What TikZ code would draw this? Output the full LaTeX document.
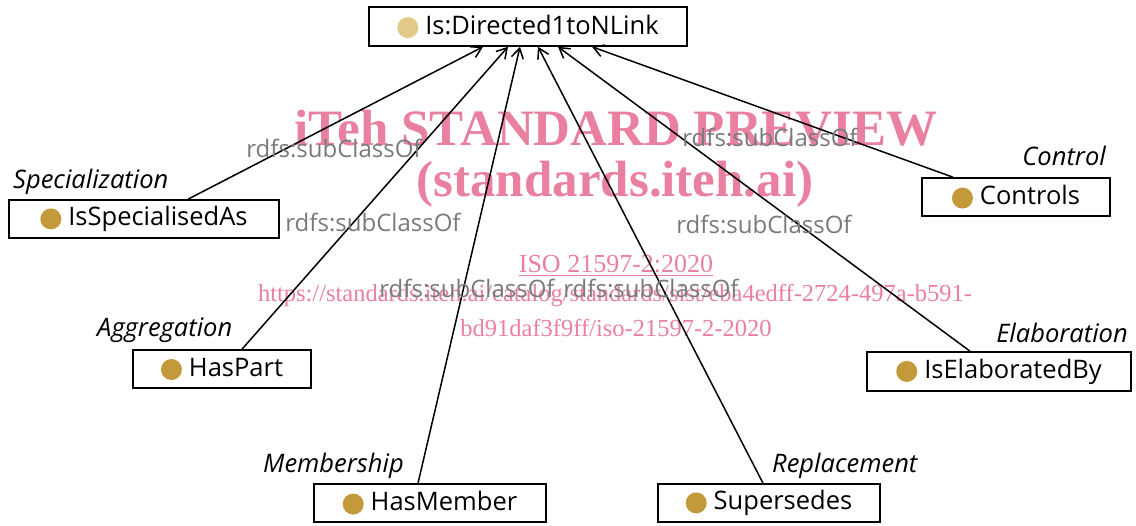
\documentclass[tikz,border=0pt]{standalone}
\usepackage{fontspec}
\setmainfont{Open Sans}
\newfontfamily\wmfont{Liberation Serif}
\usetikzlibrary{arrows.meta}
\definecolor{classgold}{RGB}{195,154,58}
\definecolor{rootgold}{RGB}{226,201,135}
\definecolor{subgray}{RGB}{122,122,122}
\definecolor{wmpink}{RGB}{234,128,160}
\newcommand{\classdot}[1]{\raisebox{-3.8bp}{\tikz\fill[#1] (0,0) circle (10.5bp);}\hspace{7bp}}
\tikzset{
  cls/.style={draw, line width=1.6bp, minimum height=38bp, inner sep=0pt,
    font=\fontsize{25.5bp}{30bp}\selectfont},
  kind/.style={font=\fontsize{25.5bp}{30bp}\selectfont\itshape, inner sep=0pt},
  sub/.style={text=subgray, font=\fontsize{24bp}{29bp}\selectfont, inner sep=0pt, anchor=base},
  isa/.style={line width=1.5bp, -{Straight Barb[length=10bp,width=12bp]}},
  wm/.style={text=wmpink, inner sep=0pt, anchor=base}
}
\begin{document}
\begin{tikzpicture}[x=1bp,y=-1bp]
  \useasboundingbox (0,0) rectangle (1136,526);
  % watermark
  \node[wm, font=\wmfont\bfseries\fontsize{51bp}{60bp}\selectfont] (wmtitle) at (616,146) {iTeh STANDARD PREVIEW};
  \node[wm, font=\wmfont\bfseries\fontsize{51bp}{60bp}\selectfont] (wmsite) at (615,197) {(standards.iteh.ai)};
  \node[wm, font=\wmfont\fontsize{26bp}{30bp}\selectfont] (wmiso) at (616,273) {\underline{ISO 21597-2:2020}};
  \node[wm, font=\wmfont\fontsize{24.5bp}{30bp}\selectfont] (wmurl) at (615,302) {https://standards.iteh.ai/catalog/standards/sist/eba4edff-2724-497a-b591-};
  \node[wm, font=\wmfont\fontsize{24.5bp}{30bp}\selectfont] (wmurlb) at (616,337) {bd91daf3f9ff/iso-21597-2-2020};
  % classes
  \node[cls, minimum width=318bp, minimum height=39bp] (top) at (528,26.5) {\classdot{rootgold}Is:Directed1toNLink};
  \node[cls, minimum width=270bp] (spec) at (144,219) {\classdot{classgold}IsSpecialisedAs};
  \node[cls, minimum width=188bp] (ctrl) at (1016,197) {\classdot{classgold}Controls};
  \node[cls, minimum width=178bp] (part) at (222,369) {\classdot{classgold}HasPart};
  \node[cls, minimum width=264bp, minimum height=39bp] (elab) at (999,371.5) {\classdot{classgold}IsElaboratedBy};
  \node[cls, minimum width=232bp] (memb) at (430,503) {\classdot{classgold}HasMember};
  \node[cls, minimum width=222bp] (supe) at (769,503) {\classdot{classgold}Supersedes};
  % relation kinds
  \node[kind, anchor=base west] (kspec) at (13,189) {Specialization};
  \node[kind, anchor=base east] (kctrl) at (1106,166) {Control};
  \node[kind, anchor=base west] (kpart) at (97,337) {Aggregation};
  \node[kind, anchor=base east] (kelab) at (1128,343) {Elaboration};
  \node[kind, anchor=base west] (kmemb) at (263,472) {Membership};
  \node[kind, anchor=base west] (ksupe) at (772,472) {Replacement};
  % subclass links
  \begin{scope}[isa]
    \draw ([xshift=44bp]spec.north) to ([xshift=-45bp]top.south);
    \draw ([xshift=20bp]part.north) to ([xshift=-20bp]top.south);
    \draw ([xshift=-12bp]memb.north) to ([xshift=-8bp]top.south);
    \draw ([xshift=-6bp]supe.north) to ([xshift=10bp]top.south);
    \draw ([xshift=-29bp]elab.north) to ([xshift=30bp]top.south);
    \draw ([xshift=-63bp]ctrl.north) to ([xshift=64bp]top.south);
  \end{scope}
  \node[sub] (sub1) at (334,158) {rdfs:subClassOf};
  \node[sub] (sub2) at (373,232) {rdfs:subClassOf};
  \node[sub] (sub3) at (467,298) {rdfs:subClassOf};
  \node[sub] (sub4) at (651,298) {rdfs:subClassOf};
  \node[sub] (sub5) at (770,147) {rdfs:subClassOf};
  \node[sub] (sub6) at (764,234) {rdfs:subClassOf};
\end{tikzpicture}
\end{document}
